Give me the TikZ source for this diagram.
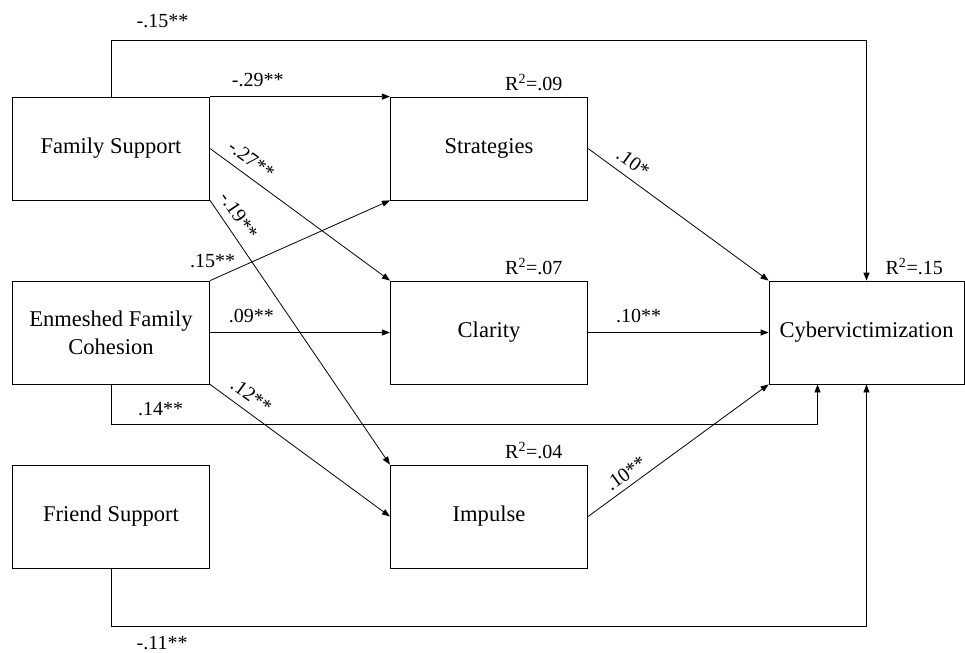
\documentclass[tikz,border=0pt]{standalone}
\usepackage{fontspec}
\setmainfont{Liberation Serif}
\usetikzlibrary{calc}
\usetikzlibrary{positioning,arrows.meta}

\tikzset{
  var/.style={draw, line width=0.6pt, minimum width=148pt, minimum height=77.25pt,
    align=center, inner sep=0pt, font=\fontsize{16.9}{21}\selectfont},
  link/.style={line width=0.6pt, -{Triangle[length=6pt,width=4.5pt]}},
  coef/.style={inner sep=1pt, font=\fontsize{15}{18}\selectfont},
}

\begin{document}
\begin{tikzpicture}[x=0.75pt,y=-0.75pt]
        %GRID
        %\draw[lightgray] (0,0) grid[step=50] (965,653);
        \useasboundingbox (0,0) rectangle (965,653);
        %KOTAK
        \node[var] (fam) at (111,148.5) {Family Support};
        \node[var] (enm) at (111,332.5) {Enmeshed Family\\Cohesion};
        \node[var] (fri) at (111,516.5) {Friend Support};
        \node[var] (str) at (489,148.5) {Strategies};
        \node[var] (cla) at (489,332.5) {Clarity};
        \node[var] (imp) at (489,516.5) {Impulse};
        \node[var, minimum width=146.25pt] (cyb) at (866.5,332.5) {Cybervictimization};
        %R KUADRAT
        \node[coef, above left=3pt and 18pt of str.north east] {R\textsuperscript{2}=.09};
        \node[coef, above left=3pt and 18pt of cla.north east] {R\textsuperscript{2}=.07};
        \node[coef, above left=3pt and 18pt of imp.north east] {R\textsuperscript{2}=.04};
        \node[coef, above left=3pt and 15pt of cyb.north east] {R\textsuperscript{2}=.15};
        %KOORDINAT
        \coordinate (topL) at (111,40);
        \coordinate (midL) at (111,424);
        \coordinate (botL) at (111,626);
        \coordinate (cybB) at ($(cyb.south west)!0.25!(cyb.south east)$);
        %PANAH
        \draw[link] (fam.north) -- (topL) node[coef, above right=8pt and 18pt]{-.15**} -| (cyb.north);
        \draw[link] (fam.north east) -- node[coef, above=6pt, pos=0.265]{-.29**} (str.north west);
        \draw[link] (fam.east) -- node[coef, sloped, above=5pt, pos=0.18]{-.27**} (cla.north west);
        \draw[link] (fam.south east) -- node[coef, sloped, above=5pt, pos=0.09]{-.19**} (imp.north west);

        \draw[link] (enm.north east) -- node[coef, pos=0, above=8pt, xshift=2pt]{.15**} (str.south west);
        \draw[link] (enm.east) -- node[coef, above=6pt, pos=0.23]{.09**} (cla.west);
        \draw[link] (enm.south east) -- node[coef, sloped, above=5pt, pos=0.18]{.12**} (imp.west);
        \draw[link] (enm.south) -- (midL) node[coef, above right=5pt and 19pt]{.14**} -| (cybB);

        \draw[link] (str.east) -- node[coef, sloped, above=5pt, pos=0.2]{.10*} (cyb.north west);
        \draw[link] (cla.east) -- node[coef, above=6pt, pos=0.28]{.10**} (cyb.west);
        \draw[link] (imp.east) -- node[coef, sloped, above=3pt, pos=0.25]{.10**} (cyb.south west);

        \draw[link] (fri.south) -- (botL) node[coef, below right=6.5pt and 18pt]{-.11**} -| (cyb.south);
    \end{tikzpicture}
\end{document}
